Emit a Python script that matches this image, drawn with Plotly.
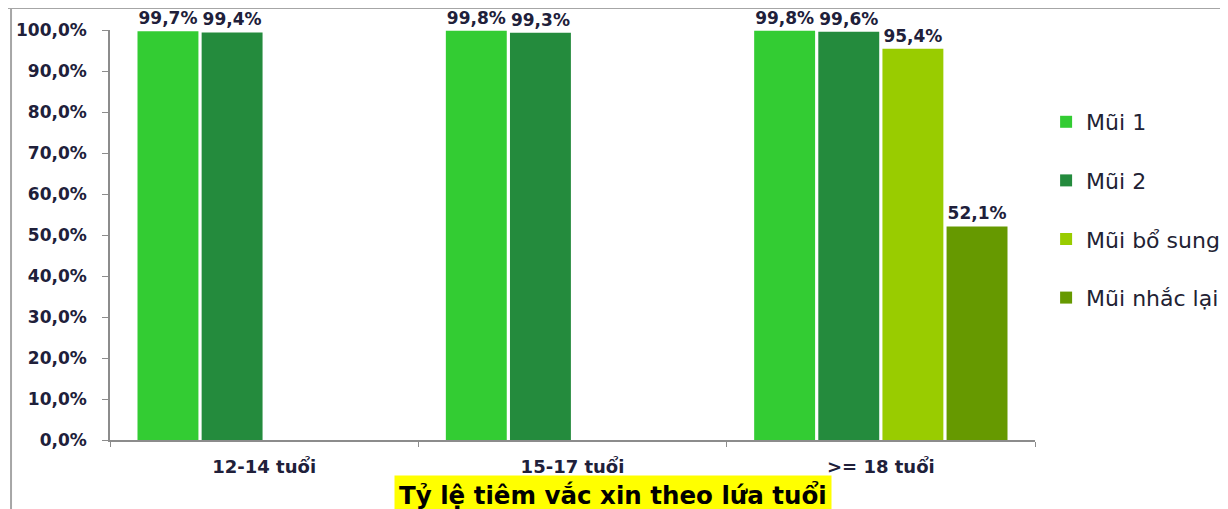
import plotly.graph_objects as go

categories = ["12-14 tuổi", "15-17 tuổi", ">= 18 tuổi"]
series_names = ["Mũi 1", "Mũi 2", "Mũi bổ sung", "Mũi nhắc lại"]
mui1 = [0.997, 0.998, 0.998]
mui2 = [0.994, 0.993, 0.996]
mui_bo_sung = [None, None, 0.954]
mui_nhac_lai = [None, None, 0.521]
series_values = [mui1, mui2, mui_bo_sung, mui_nhac_lai]
colors = ["#33CC33", "#248B3D", "#99CC00", "#669900"]
y_tickvals = [i / 10 for i in range(11)]
y_ticktext = ["0,0%", "10,0%", "20,0%", "30,0%", "40,0%", "50,0%", "60,0%", "70,0%", "80,0%", "90,0%", "100,0%"]
title_text = "Tỷ lệ tiêm vắc xin theo lứa tuổi"

def fmt(v):
    return "" if v is None else f"{v*100:.1f}%".replace(".", ",")

label_font = dict(family="DejaVu Sans", size=17, color="#20203a", weight="bold")

fig = go.Figure()
for name, vals, col in zip(series_names, series_values, colors):
    fig.add_trace(go.Bar(
        x=categories, y=vals, name=name, legendgroup=name,
        marker=dict(color=col, line=dict(width=0)),
        text=[fmt(v) for v in vals], textposition="outside",
        textfont=label_font,
        cliponaxis=False,
    ))

fig.update_layout(
    width=1220, height=501,
    margin=dict(l=102, r=193, t=22, b=69, autoexpand=False),
    paper_bgcolor="white", plot_bgcolor="white",
    barmode="group", bargap=0.168, bargroupgap=0.05,
    showlegend=True,
    legend=dict(x=1.012, y=0.561, xanchor="left", yanchor="middle",
                font=dict(family="DejaVu Sans", size=22, color="#222233"),
                tracegroupgap=27, itemwidth=30),
    font=dict(family="DejaVu Sans"),
    xaxis=dict(showline=True, linecolor="#8c8c8c", linewidth=1.5, automargin=False,
               ticks="outside", tickson="boundaries", ticklen=5, tickcolor="#8c8c8c",
               tickfont=dict(family="DejaVu Sans", size=18, color="#20203a", weight="bold"),
               ticklabelstandoff=10, showgrid=False),
    yaxis=dict(range=[0, 1], showline=True, linecolor="#8c8c8c", linewidth=1.5, automargin=False,
               ticks="outside", ticklen=6, tickcolor="#8c8c8c",
               tickvals=y_tickvals, ticktext=y_ticktext,
               tickfont=label_font,
               ticklabelstandoff=12, showgrid=False, zeroline=False),
    shapes=[
        dict(type="line", xref="paper", yref="paper", x0=-0.2, x1=1.3, y0=1.0537, y1=1.0537,
             line=dict(color="#a6a6a6", width=2)),
        dict(type="line", xref="paper", yref="paper", x0=-0.107, x1=-0.107, y0=-0.3, y1=1.0537,
             line=dict(color="#a6a6a6", width=2)),
    ],
    annotations=[
        dict(text="<b>" + title_text + "</b>", xref="paper", yref="paper",
             x=0.544, y=-0.135, xanchor="center", yanchor="middle", showarrow=False,
             bgcolor="#ffff00", borderpad=4,
             font=dict(family="DejaVu Sans", size=24.5, color="black")),
    ],
)

fig.write_html("out.html")
